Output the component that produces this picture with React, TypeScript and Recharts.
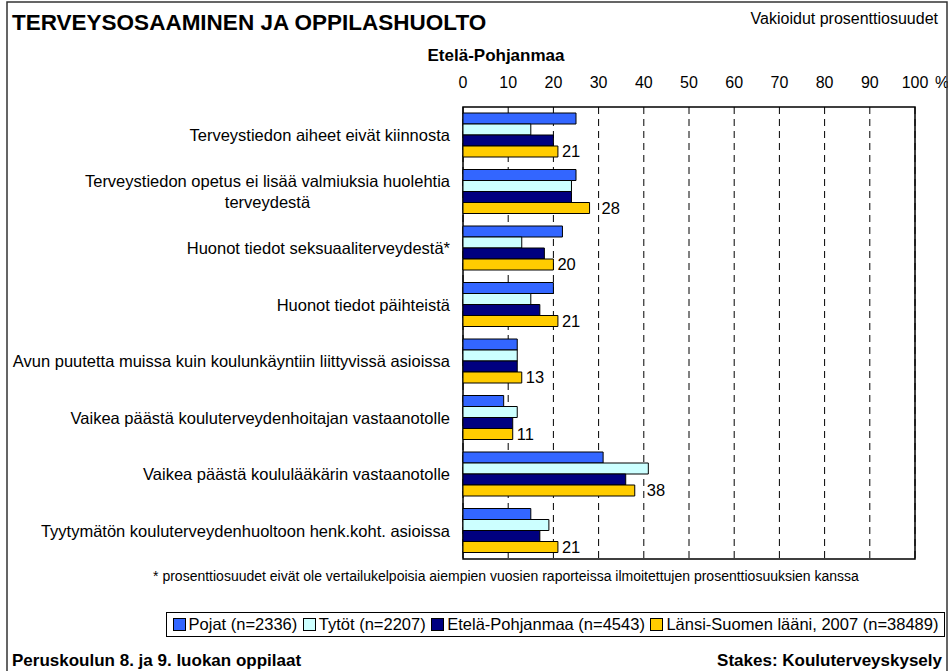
import React from 'react';
import {
  Bar,
  BarChart,
  CartesianGrid,
  LabelList,
  Legend,
  ReferenceArea,
  XAxis,
  YAxis,
} from 'recharts';

const categories = [
  'Terveystiedon aiheet eivät kiinnosta',
  'Terveystiedon opetus ei lisää valmiuksia huolehtia\nterveydestä',
  'Huonot tiedot seksuaaliterveydestä*',
  'Huonot tiedot päihteistä',
  'Avun puutetta muissa kuin koulunkäyntiin liittyvissä asioissa',
  'Vaikea päästä kouluterveydenhoitajan vastaanotolle',
  'Vaikea päästä koululääkärin vastaanotolle',
  'Tyytymätön kouluterveydenhuoltoon henk.koht. asioissa',
];
const pojat = [25, 25, 22, 20, 12, 9, 31, 15];
const tytot = [15, 24, 13, 15, 12, 12, 41, 19];
const etelaPohjanmaa = [20, 24, 18, 17, 12, 11, 36, 17];
const lansiSuomi = [21, 28, 20, 21, 13, 11, 38, 21];

const seriesNames = [
  'Pojat (n=2336)',
  'Tytöt (n=2207)',
  'Etelä-Pohjanmaa (n=4543)',
  'Länsi-Suomen lääni, 2007 (n=38489)',
];
const seriesKeys = ['pojat', 'tytot', 'ep', 'lansi'];
const seriesColors = ['#3366ff', '#ccffff', '#000080', '#ffcc00'];
const xTicks = [0, 10, 20, 30, 40, 50, 60, 70, 80, 90, 100];

const data = categories.map((name, i) => ({
  name,
  pojat: pojat[i],
  tytot: tytot[i],
  ep: etelaPohjanmaa[i],
  lansi: lansiSuomi[i],
}));

const font = '"Liberation Sans", Arial, sans-serif';
const labelSize = 16.5;

function measure(text: string, size: number, weight = 'normal') {
  const ctx = document.createElement('canvas').getContext('2d');
  if (!ctx) return text.length * size * 0.5;
  ctx.font = `${weight} ${size}px "Liberation Sans"`;
  return ctx.measureText(text).width;
}

function CategoryTick(props: any) {
  const { y, payload } = props;
  const lines = String(payload.value).split('\n');
  const right = 450;
  if (lines.length === 1) {
    return (
      <text x={right} y={y} dy="0.35em" textAnchor="end" fontSize={labelSize} fontFamily={font} fill="#000">
        {lines[0]}
      </text>
    );
  }
  const w = Math.max(...lines.map((l) => measure(l, labelSize)));
  const cx = right - w / 2;
  const lh = 21;
  return (
    <g>
      {lines.map((l, i) => (
        <text
          key={i}
          x={cx}
          y={y + (i - (lines.length - 1) / 2) * lh}
          dy="0.35em"
          textAnchor="middle"
          fontSize={labelSize}
          fontFamily={font}
          fill="#000"
        >
          {l}
        </text>
      ))}
    </g>
  );
}

function ValueTick(props: any) {
  const { x, payload } = props;
  return (
    <g>
      <text x={x} y={88} textAnchor="middle" fontSize={16} fontFamily={font} fill="#000">
        {payload.value}
      </text>
      {payload.value === 100 && (
        <text x={x + 20} y={88} fontSize={16} fontFamily={font} fill="#000">
          %
        </text>
      )}
    </g>
  );
}

// value label right of the bar; hop over a gridline that it would sit on
function ValueLabel(props: any) {
  const { x, y, width, height, value } = props;
  const end = x + width;
  const ppu = value ? width / value : 0;
  const nextGrid = x + (Math.floor(value / 10) + 1) * 10 * ppu;
  const textW = measure(String(value), labelSize);
  let start = end + 4;
  if (nextGrid > start - 1 && nextGrid < start + textW) start = nextGrid + 3;
  return (
    <text x={start} y={y + height / 2} dy="0.35em" fontSize={labelSize} fontFamily={font} fill="#000">
      {value}
    </text>
  );
}

function LegendBox() {
  return (
    <div
      style={{
        width: 777,
        height: 23,
        border: '1px solid #000',
        display: 'flex',
        alignItems: 'center',
        justifyContent: 'space-evenly',
        fontFamily: font,
        fontSize: labelSize,
        background: '#fff',
      }}
    >
      {seriesNames.map((n, i) => (
        <span key={n} style={{ display: 'flex', alignItems: 'center', whiteSpace: 'nowrap' }}>
          <span
            style={{
              display: 'inline-block',
              width: 11,
              height: 11,
              background: seriesColors[i],
              border: '1px solid #000',
              marginRight: 3,
            }}
          />
          {n}
        </span>
      ))}
    </div>
  );
}

export default function App() {
  return (
    <div style={{ position: 'absolute', left: 0, top: 0, width: 948, height: 671, background: '#fff' }}>
      <BarChart
        width={948}
        height={671}
        data={data}
        layout="vertical"
        margin={{ top: 77, right: 33, bottom: 112, left: 8 }}
        barSize={11}
        barGap={0}
      >
        <CartesianGrid horizontal={false} stroke="#000" strokeDasharray="7 5" />
        <XAxis
          type="number"
          orientation="top"
          domain={[0, 100]}
          ticks={xTicks}
          interval={0}
          height={30}
          axisLine={false}
          tickLine={false}
          tick={<ValueTick />}
        />
        <YAxis
          type="category"
          dataKey="name"
          width={455}
          axisLine={false}
          tickLine={false}
          interval={0}
          tick={<CategoryTick />}
        />
        <ReferenceArea x1={0} x2={100} fill="none" stroke="#000" strokeWidth={1.5} ifOverflow="visible" />
        {seriesKeys.map((k, i) => (
          <Bar
            key={k}
            dataKey={k}
            name={seriesNames[i]}
            fill={seriesColors[i]}
            stroke="#000"
            strokeWidth={1}
            isAnimationActive={false}
          >
            {k === 'lansi' && <LabelList dataKey="lansi" content={<ValueLabel />} />}
          </Bar>
        ))}
        <Legend
          layout="horizontal"
          verticalAlign="middle"
          align="center"
          content={() => <LegendBox />}
          wrapperStyle={{ position: 'absolute', left: 166, top: 612, width: 779, height: 25 }}
        />
      </BarChart>
      <svg
        width={948}
        height={671}
        style={{ position: 'absolute', left: 0, top: 0, pointerEvents: 'none' }}
        fontFamily={font}
      >
        <rect x={7} y={2} width={940} height={680} fill="none" stroke="#333" strokeWidth={1.5} />
        <text x={12} y={30} fontSize={22.5} fontWeight="bold">
          TERVEYSOSAAMINEN JA OPPILASHUOLTO
        </text>
        <text x={938} y={24} fontSize={16} textAnchor="end">
          Vakioidut prosenttiosuudet
        </text>
        <text x={496} y={61} fontSize={17} fontWeight="bold" textAnchor="middle">
          Etelä-Pohjanmaa
        </text>
        <text x={506} y={581} fontSize={14} textAnchor="middle">
          * prosenttiosuudet eivät ole vertailukelpoisia aiempien vuosien raporteissa ilmoitettujen prosenttiosuuksien kanssa
        </text>
        <text x={12} y={666} fontSize={17} fontWeight="bold">
          Peruskoulun 8. ja 9. luokan oppilaat
        </text>
        <text x={942} y={666} fontSize={17} fontWeight="bold" textAnchor="end">
          Stakes: Kouluterveyskysely
        </text>
      </svg>
    </div>
  );
}
